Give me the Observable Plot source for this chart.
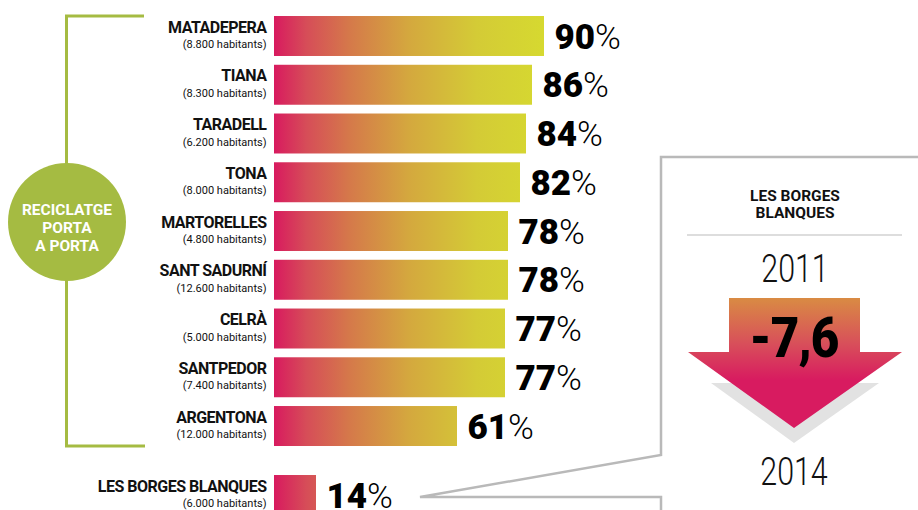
<!DOCTYPE html>
<html><head><meta charset="utf-8">
<script src="https://cdn.jsdelivr.net/npm/d3@7"></script>
<script src="https://cdn.jsdelivr.net/npm/@observablehq/plot@0.6"></script>
<style>
html,body{margin:0;padding:0;background:#fff;}
#chart{width:918px;height:510px;overflow:hidden;position:relative;}
svg{display:block;}
</style></head><body><div id="chart"></div>
<script>
// ---- data ----
const municipis = ["MATADEPERA","TIANA","TARADELL","TONA","MARTORELLES","SANT SADURNÍ","CELRÀ","SANTPEDOR","ARGENTONA"];
const habitants = ["8.800","8.300","6.200","8.000","4.800","12.600","5.000","7.400","12.000"];
const percentatges = [90,86,84,82,78,78,77,77,61];
const comparatNom = "LES BORGES BLANQUES";
const comparatHabitants = "6.000";
const comparatValor = 14;
const grupEtiqueta = ["RECICLATGE","PORTA","A PORTA"];
const panellTitol = ["LES BORGES","BLANQUES"];
const anys = ["2011","2014"];
const variacio = "-7,6";

// ---- table ----
const gap = 1.415; // spacing (in rows) before the comparison row
const table = municipis.map((m,i)=>({nom:m, hab:`(${habitants[i]} habitants)`, v:percentatges[i], pos:i}));
table.push({nom:comparatNom, hab:`(${comparatHabitants} habitants)`, v:comparatValor, pos:municipis.length-1+gap});
const lastPos = municipis.length-1+gap;
const half = 0.41;

const FONT = "Roboto, 'Liberation Sans', sans-serif";

const plot = Plot.plot({
  width:918, height:510, margin:0,
  x:{domain:[0,90], range:[274,544], axis:null},
  y:{type:"linear", domain:[0,lastPos], range:[36,495], axis:null},
  style:{fontFamily:FONT, background:"#fff", color:"#111", overflow:"hidden"},
  marks:[
    Plot.rectX(table, {x1:0, x2:"v", y1:d=>d.pos-half, y2:d=>d.pos+half, fill:"url(#barGrad)"}),
    Plot.text(table, {x:d=>0, y:"pos", text:"nom", dx:-8, dy:-4, textAnchor:"end", lineAnchor:"bottom",
      fontWeight:"bold", fontSize:16, fill:"#111", ariaDescription:"nom"}),
    Plot.text(table, {x:d=>0, y:"pos", text:"hab", dx:-8, dy:11.5, textAnchor:"end", lineAnchor:"bottom",
      fontSize:11, fill:"#111"}),
    Plot.text(table, {x:"v", y:"pos", text:d=>String(d.v), dx:10, dy:12, textAnchor:"start", lineAnchor:"bottom",
      fontWeight:900, fontSize:35, fill:"#000", ariaDescription:"pct"})
  ]
});
document.getElementById("chart").appendChild(plot);

const svg = d3.select(plot);
const xs = plot.scale("x"), ys = plot.scale("y");
const X = v=>xs.apply(v), Y = v=>ys.apply(v);

// condensed look for the names, light percent sign
svg.selectAll('g[aria-description="nom"] text').attr("letter-spacing",-0.5);
svg.selectAll('g[aria-description="pct"] text').append("tspan").attr("font-weight",300).text("%");

// gradients
const defs = svg.insert("defs",":first-child");
const bg = defs.append("linearGradient").attr("id","barGrad").attr("gradientUnits","userSpaceOnUse")
  .attr("x1",X(0)).attr("x2",X(90)).attr("y1",0).attr("y2",0);
[[0,"#d81a5f"],[0.12,"#d64d58"],[0.28,"#d5794a"],[0.5,"#d4a83e"],[0.75,"#d4cb36"],[1,"#d6d930"]]
  .forEach(([o,c])=>bg.append("stop").attr("offset",o).attr("stop-color",c));
const ag = defs.append("linearGradient").attr("id","arrowGrad").attr("gradientUnits","userSpaceOnUse")
  .attr("x1",0).attr("x2",0).attr("y1",298).attr("y2",380);
[[0,"#d98b43"],[0.55,"#d8505a"],[1,"#d81b60"]]
  .forEach(([o,c])=>ag.append("stop").attr("offset",o).attr("stop-color",c));

// green bracket + circle
const green = "#a5bb42";
const topY = Y(0)-half*48.75, botY = Y(municipis.length-1)+half*48.75;
const dec = svg.append("g");
dec.append("path").attr("d",`M144,${topY} H66.5 V${botY} H145`).attr("fill","none").attr("stroke",green).attr("stroke-width",3);
dec.append("circle").attr("cx",67).attr("cy",222).attr("r",59).attr("fill",green);
grupEtiqueta.forEach((t,i)=>dec.append("text").attr("x",67).attr("y",215+i*18).attr("text-anchor","middle")
  .attr("fill","#fff").attr("font-weight","bold").attr("font-size",15.5).attr("font-family",FONT).text(t));

// right panel callout
const gray = "#b9b9b9";
dec.append("path").attr("d","M930,157 H661 V455 L420,497 H661 V520").attr("fill","none").attr("stroke",gray).attr("stroke-width",2.5).attr("stroke-linejoin","miter");
panellTitol.forEach((t,i)=>dec.append("text").attr("x",795).attr("y",201+i*17).attr("text-anchor","middle")
  .attr("fill","#111").attr("font-weight","bold").attr("font-size",15.5).attr("font-family",FONT).text(t));
dec.append("line").attr("x1",687).attr("x2",902).attr("y1",235).attr("y2",235).attr("stroke","#bbb").attr("stroke-width",1.2);
const yearText = (t,x,y)=>dec.append("text").attr("transform",`translate(${x},${y}) scale(0.8,1)`).attr("text-anchor","middle")
  .attr("fill","#111").attr("font-weight",300).attr("font-size",38).attr("font-family",FONT).text(t);
yearText(anys[0],795,282);
// arrow
dec.append("path").attr("d","M711,383 H879 L794,443 Z").attr("fill","#e2e2e2");
dec.append("path").attr("d","M729,298 H860 V352 H902 L794,428 L688,352 H729 Z").attr("fill","url(#arrowGrad)");
dec.append("text").attr("transform","translate(794,357) scale(0.88,1)").attr("text-anchor","middle").attr("fill","#000")
  .attr("font-weight",900).attr("font-size",56).attr("font-family",FONT).attr("letter-spacing",-1).text(variacio);
yearText(anys[1],794,485);
</script></body></html>
